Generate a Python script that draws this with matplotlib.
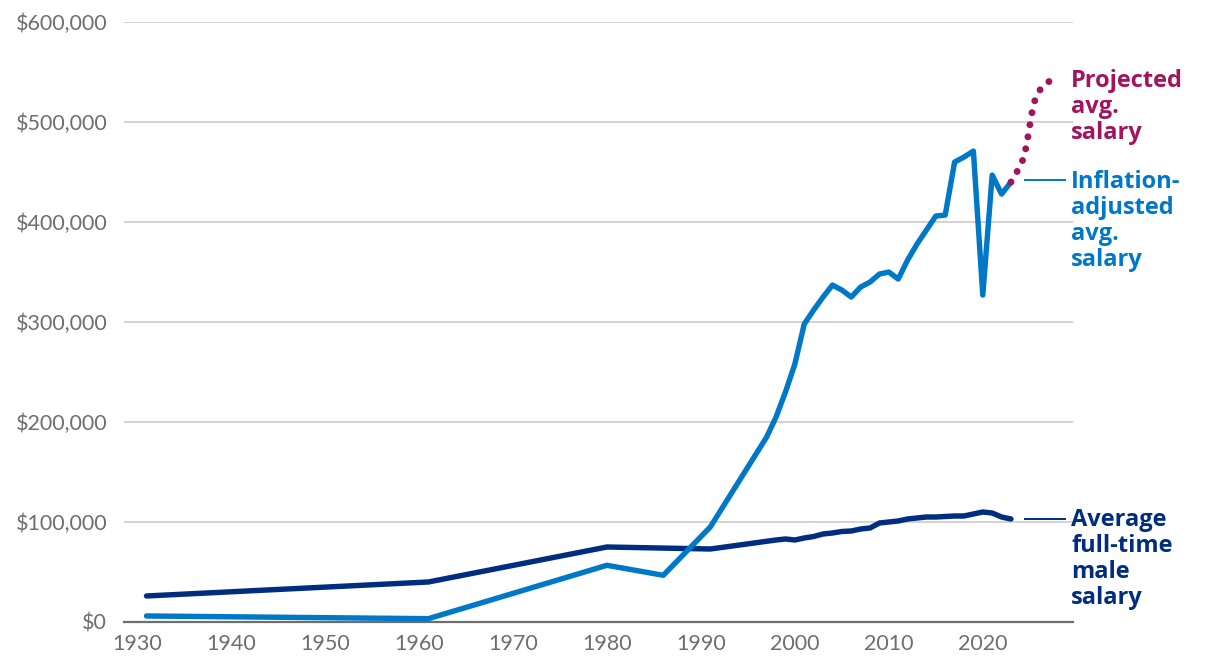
import matplotlib.pyplot as plt
from matplotlib.ticker import FuncFormatter

# --- data ---
male_years = [1931, 1961, 1980, 1991, 1998, 1999, 2000, 2001, 2002, 2003, 2004,
              2005, 2006, 2007, 2008, 2009, 2010, 2011, 2012, 2013, 2014, 2015,
              2016, 2017, 2018, 2019, 2020, 2021, 2022, 2023]
male_salary = [26000, 40000, 75000, 73000, 82000, 83000, 82000, 84000, 85500,
               88000, 89000, 90500, 91000, 93000, 94000, 99000, 100000, 101000,
               103000, 104000, 105000, 105000, 105500, 106000, 106000, 108000,
               110000, 109000, 105000, 103000]

infl_years = [1931, 1961, 1980, 1986, 1991, 1997, 1998, 1999, 2000, 2001, 2002,
              2003, 2004, 2005, 2006, 2007, 2008, 2009, 2010, 2011, 2012, 2013,
              2014, 2015, 2016, 2017, 2018, 2019, 2020, 2021, 2022, 2023]
infl_salary = [6000, 3300, 56700, 46700, 95000, 185000, 205000, 230000, 258000,
               298000, 312000, 325000, 337000, 332000, 325000, 335000, 340000,
               348000, 350000, 343000, 362000, 378000, 392000, 406000, 407000,
               460000, 465000, 471000, 327000, 447000, 428000, 440000]

proj_years = [2023, 2023.8, 2024.4, 2024.8, 2025.2, 2025.6, 2026.2, 2027.1]
proj_salary = [440000, 453000, 465000, 485000, 508000, 524000, 534000, 541000]

y_ticks = [0, 100000, 200000, 300000, 400000, 500000, 600000]
x_ticks = [1930, 1940, 1950, 1960, 1970, 1980, 1990, 2000, 2010, 2020]

NAVY = "#002d80"
BLUE = "#0078c8"
PURPLE = "#a3145f"
GREY = "#6e6e6e"

plt.rcParams['font.family'] = ['Lato', 'DejaVu Sans']

fig = plt.figure(figsize=(12.2, 6.68), dpi=100)
ax = fig.add_axes([0.1016, 0.0689, 0.7779, 0.898])

ax.plot(male_years, male_salary, color=NAVY, lw=3.9, solid_capstyle='round',
        solid_joinstyle='round', zorder=3)
ax.plot(infl_years, infl_salary, color=BLUE, lw=3.9, solid_capstyle='round',
        solid_joinstyle='round', zorder=3)
ax.plot(proj_years, proj_salary, color=PURPLE, lw=5.0, linestyle=(0, (0.01, 1.75)),
        dash_capstyle='round', zorder=4)

ax.set_xlim(1928.6, 2029.6)
ax.set_ylim(0, 600000)
ax.set_yticks(y_ticks)
ax.set_xticks(x_ticks)
ax.yaxis.set_major_formatter(FuncFormatter(lambda v, p: f"${v:,.0f}"))
ax.grid(axis='y', color='#d3d3d3', lw=1.4)
ax.set_axisbelow(True)
for s in ['top', 'right', 'left']:
    ax.spines[s].set_visible(False)
ax.spines['bottom'].set_color(GREY)
ax.spines['bottom'].set_linewidth(1.6)
ax.tick_params(length=0, labelsize=15.5, colors=GREY, pad=12)
ax.tick_params(axis='x', pad=9)

# direct labels with short leader lines
lab_x0, lab_x1, text_x = 2024.5, 2028.8, 2029.4
ax.plot([lab_x0, lab_x1], [442000, 442000], color=BLUE, lw=1.4, clip_on=False)
ax.plot([lab_x0, lab_x1], [103000, 103000], color=NAVY, lw=1.4, clip_on=False)

txt = dict(fontsize=17, fontweight='bold', ha='left', va='center',
           linespacing=1.1, clip_on=False, family=['Open Sans', 'DejaVu Sans'])
ax.text(text_x, 515000, "Projected\navg.\nsalary", color=PURPLE, **txt)
ax.text(text_x, 401000, "Inflation-\nadjusted\navg.\nsalary", color=BLUE, **txt)
ax.text(text_x, 63000, "Average\nfull-time\nmale\nsalary", color=NAVY, **txt)

fig.savefig("out.png", dpi=100)
